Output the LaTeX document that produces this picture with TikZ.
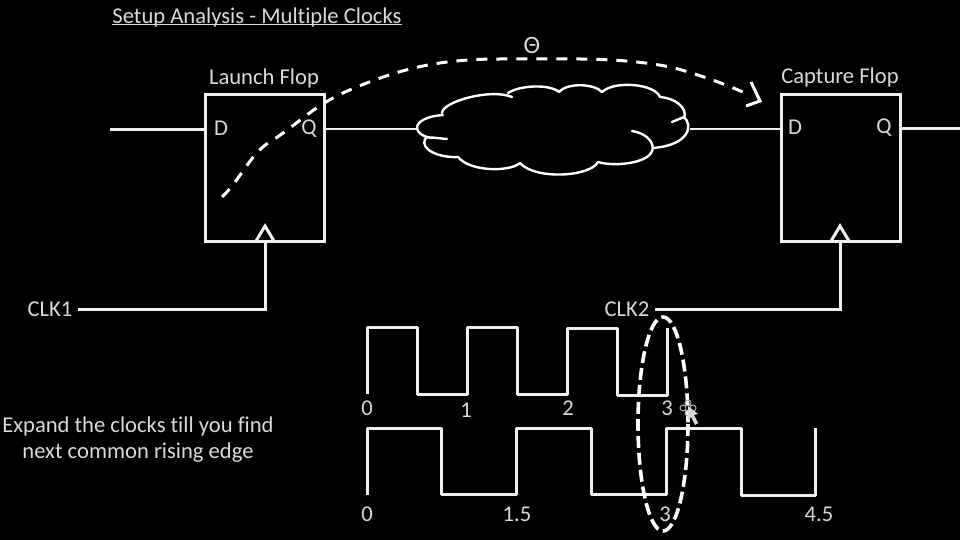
\documentclass[tikz,border=0pt]{standalone}
\usepackage{fontspec}
\setmainfont[Ligatures=NoCommon]{Carlito}
\begin{document}
\begin{tikzpicture}[x=1pt,y=-1pt,
  wire/.style={draw=white!94!black,line width=3pt,line join=miter},
  thin wire/.style={draw=white!94!black,line width=2.4pt},
  flop/.style={draw=white!94!black,line width=3pt,minimum width=119pt,minimum height=146pt,inner sep=0pt},
  lab/.style={text=white!85!black,font=\fontsize{22.6}{24}\selectfont,inner sep=0pt},
  dash curve/.style={draw=white,line width=3pt,dash pattern=on 11pt off 9pt},
  cloudline/.style={draw=white,line width=2.4pt,line cap=round,line join=round}]
\useasboundingbox[fill=black] (0,0) rectangle (960,540);
% title
\node[lab] (title) at (257,17) {Setup Analysis - Multiple Clocks};
\draw[draw=white!85!black,line width=1.4pt] (title.south west|-0,24.5) -- (title.south east|-0,24.5);
% flops
\node[flop] (lf) at (264.5,168) {};
\node[flop] (cf) at (840.5,168) {};
\node[lab] (lft) at (264,78) {Launch Flop};
\node[lab] (cft) at (840,77) {Capture Flop};
\node[lab] (d1) at (221,128) {D};
\node[lab] (q1) at (309,129) {Q};
\node[lab] (d2) at (795,127) {D};
\node[lab] (q2) at (884,128) {Q};
% clock triangles
\node[inner sep=0pt] (t1) at (265,241) {};
\node[inner sep=0pt] (t2) at (840,241) {};
\draw[wire,line join=miter] (256,241) -- (265,226) -- (274,241);
\draw[wire,line join=miter] (831,241) -- (840,226) -- (849,241);
% wires
\coordinate (in1) at (110,130);
\coordinate (out2) at (960,129);
\coordinate (cl) at (417,129);
\coordinate (cr) at (690,129);
\draw[wire] (in1) -- (lf.west|-in1);
\draw[thin wire] (lf.east|-cl) -- (cl);
\draw[thin wire] (cr) -- (cf.west|-cr);
\draw[wire] (cf.east|-out2) -- (out2);
\node[lab] (clk1) at (50,309) {CLK1};
\node[lab] (clk2) at (627,309) {CLK2};
\draw[wire] (clk1.east)+(5,0) -- (265,309) -- (t1.center);
\draw[wire] (clk2.east)+(5,0) -- (840,309) -- (t2.center);
% cloud
\draw[cloudline]
 (417,128) .. controls (417,121) and (428,116) .. (443,115)
 (442,113) .. controls (442,102) and (490,88) .. (512,97)
 (508,93) .. controls (520,85) and (550,84) .. (559,92)
 .. controls (568,82) and (595,84) .. (602,92)
 .. controls (615,80) and (655,84) .. (660,97)
 .. controls (675,98) and (688,108) .. (684,118)
 (672,122) -- (684,117) .. controls (693,125) and (690,145) .. (653,148)
 (632,131) .. controls (650,134) and (656,146) .. (651,153)
 .. controls (645,163) and (615,167) .. (598,162)
 .. controls (590,177) and (535,180) .. (520,163)
 .. controls (510,172) and (470,172) .. (458,157)
 .. controls (440,158) and (420,150) .. (425,139)
 .. controls (425,136) and (435,138) .. (447,139)
 (417,128) .. controls (417,133) and (424,137) .. (432,138);
% dashed path
\draw[dash curve] (222,197) .. controls (240,180) and (250,155) .. (268,143)
 .. controls (295,127) and (310,108) .. (345,92)
 .. controls (400,68) and (440,59) .. (500,59)
 .. controls (570,59) and (620,57) .. (670,67)
 .. controls (695,73) and (725,84) .. (745,93);
\draw[draw=white,line width=3pt,line join=miter] (751,82) -- (760,101) -- (746,106);
\node[lab,font=\fontsize{25}{27}\selectfont] (theta) at (532,45) {Θ};
% waveforms
\draw[wire,line join=round] (367,394) -- (367,327) -- (417,327) -- (417,394) -- (467,394) -- (467,327) -- (517,327) -- (517,394) -- (567,394) -- (567,328) -- (617,328) -- (617,395) -- (667,395) -- (667,328);
\draw[wire,line join=round] (367,495) -- (367,428) -- (441,428) -- (441,494) -- (516,494) -- (516,428) -- (591,428) -- (591,494) -- (666,494) -- (666,428) -- (741,428) -- (741,495) -- (815,495) -- (815,428);
% numbers
\foreach \n/\t/\x/\y in {a/0/367/408,b/1/466/410,c/2/568/408,d/3/667/408,e/0/367/514,f/1.5/517/514,g/3/665/514,h/4.5/819/514}
  \node[lab] (num\n) at (\x,\y) {\t};
% ellipse
\draw[draw=white,line width=3.6pt,dash pattern=on 12pt off 5pt] (663,424) ellipse [x radius=25,y radius=107];
% side text
\node[lab,align=center,font=\fontsize{22.6}{26}\selectfont] (note) at (138,440) {Expand the clocks till you find\\next common rising edge};
% cursor
\draw[draw=white!70!black,line width=1pt] (688,403) circle (3) (688,413) circle (3) (683,408) circle (3) (693,408) circle (3);
\fill[white!85!black] (688,406) -- (688,420) -- (691,417) -- (695,425) -- (698,423) -- (694,415) -- (698,414) -- cycle;
\end{tikzpicture}
\end{document}
